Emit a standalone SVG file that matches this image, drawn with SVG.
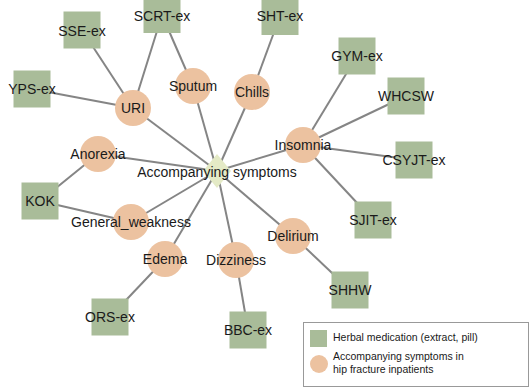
<svg xmlns="http://www.w3.org/2000/svg" width="530" height="388" viewBox="0 0 530 388">
<defs>
<style>
.e{stroke:#858585;stroke-width:2;fill:none}
.sq{fill:#a9bc99}
.ci{fill:#ecc2a0}
.dm{fill:#e4eac6}
text{font-family:"Liberation Sans",Arial,sans-serif;fill:#1a1a1a}
.lb{font-size:14px;text-anchor:middle;dominant-baseline:central}
.lg{font-size:10.5px}
</style>
</defs>
<rect width="530" height="388" fill="#ffffff"/>
<g id="connectors">
<line class="e" x1="133" y1="108" x2="82" y2="30"/>
<line class="e" x1="133" y1="108" x2="162" y2="15"/>
<line class="e" x1="133" y1="108" x2="32" y2="89"/>
<line class="e" x1="133" y1="108" x2="217" y2="171"/>
<line class="e" x1="193" y1="86" x2="162" y2="15"/>
<line class="e" x1="193" y1="86" x2="217" y2="171"/>
<line class="e" x1="252" y1="92" x2="280" y2="16"/>
<line class="e" x1="252" y1="92" x2="217" y2="171"/>
<line class="e" x1="98" y1="154" x2="217" y2="171"/>
<line class="e" x1="98" y1="154" x2="40" y2="201"/>
<line class="e" x1="131" y1="222" x2="40" y2="201"/>
<line class="e" x1="131" y1="222" x2="217" y2="171"/>
<line class="e" x1="165" y1="259" x2="217" y2="171"/>
<line class="e" x1="165" y1="259" x2="110" y2="317"/>
<line class="e" x1="236" y1="260" x2="217" y2="171"/>
<line class="e" x1="236" y1="260" x2="248" y2="330"/>
<line class="e" x1="293" y1="236" x2="217" y2="171"/>
<line class="e" x1="293" y1="236" x2="350" y2="290"/>
<line class="e" x1="303" y1="145" x2="217" y2="171"/>
<line class="e" x1="303" y1="145" x2="357" y2="56"/>
<line class="e" x1="303" y1="145" x2="406" y2="96"/>
<line class="e" x1="303" y1="145" x2="414" y2="160"/>
<line class="e" x1="303" y1="145" x2="373" y2="220"/>
</g>
<g id="n-sse"><rect class="sq" x="63.5" y="11.5" width="37" height="37"/><text class="lb" x="82" y="31">SSE-ex</text></g>
<g id="n-scrt"><rect class="sq" x="143.5" y="-3" width="37" height="36"/><text class="lb" x="162" y="16">SCRT-ex</text></g>
<g id="n-sht"><rect class="sq" x="261.5" y="-2" width="37" height="37"/><text class="lb" x="280" y="16">SHT-ex</text></g>
<g id="n-yps"><rect class="sq" x="13.5" y="70.5" width="37" height="37"/><text class="lb" x="32" y="89">YPS-ex</text></g>
<g id="n-gym"><rect class="sq" x="338.5" y="37.5" width="37" height="37"/><text class="lb" x="357" y="56">GYM-ex</text></g>
<g id="n-whcsw"><rect class="sq" x="387.5" y="77.5" width="37" height="37"/><text class="lb" x="406" y="96">WHCSW</text></g>
<g id="n-csyjt"><rect class="sq" x="395.5" y="141.5" width="37" height="37"/><text class="lb" x="414" y="160">CSYJT-ex</text></g>
<g id="n-kok"><rect class="sq" x="21.5" y="182.5" width="37" height="37"/><text class="lb" x="40" y="201">KOK</text></g>
<g id="n-sjit"><rect class="sq" x="354.5" y="201.5" width="37" height="37"/><text class="lb" x="373" y="220">SJIT-ex</text></g>
<g id="n-shhw"><rect class="sq" x="331.5" y="271.5" width="37" height="37"/><text class="lb" x="350" y="290">SHHW</text></g>
<g id="n-ors"><rect class="sq" x="91.5" y="298.5" width="37" height="37"/><text class="lb" x="110" y="317">ORS-ex</text></g>
<g id="n-bbc"><rect class="sq" x="229.5" y="311.5" width="37" height="37"/><text class="lb" x="248" y="330">BBC-ex</text></g>
<g id="n-uri"><circle class="ci" cx="133" cy="108" r="18"/><text class="lb" x="133" y="108">URI</text></g>
<g id="n-sputum"><circle class="ci" cx="193" cy="86" r="18"/><text class="lb" x="193" y="86">Sputum</text></g>
<g id="n-chills"><circle class="ci" cx="252" cy="92" r="18"/><text class="lb" x="252" y="92">Chills</text></g>
<g id="n-anorexia"><circle class="ci" cx="98" cy="154" r="18"/><text class="lb" x="98" y="154">Anorexia</text></g>
<g id="n-insomnia"><circle class="ci" cx="303" cy="145" r="18"/><text class="lb" x="303" y="145">Insomnia</text></g>
<g id="n-gw"><circle class="ci" cx="131" cy="222" r="18"/><text class="lb" x="131" y="222">General_weakness</text></g>
<g id="n-edema"><circle class="ci" cx="165" cy="259" r="18"/><text class="lb" x="165" y="259">Edema</text></g>
<g id="n-dizziness"><circle class="ci" cx="236" cy="260" r="18"/><text class="lb" x="236" y="260">Dizziness</text></g>
<g id="n-delirium"><circle class="ci" cx="293" cy="236" r="18"/><text class="lb" x="293" y="236">Delirium</text></g>
<g id="n-center"><polygon class="dm" points="217,154 231,171 217,188 203,171"/><text class="lb" x="217" y="172">Accompanying symptoms</text></g>
<g id="legend">
<rect x="303.5" y="322.5" width="225" height="64" fill="#ffffff" stroke="#999999" stroke-width="1"/>
<rect class="sq" x="310" y="330" width="17" height="17"/>
<text class="lg" x="333" y="341">Herbal medication (extract, pill)</text>
<circle class="ci" cx="319" cy="364" r="9"/>
<text class="lg" x="333" y="360">Accompanying symptoms in</text>
<text class="lg" x="333" y="372.5">hip fracture inpatients</text>
</g>
</svg>
